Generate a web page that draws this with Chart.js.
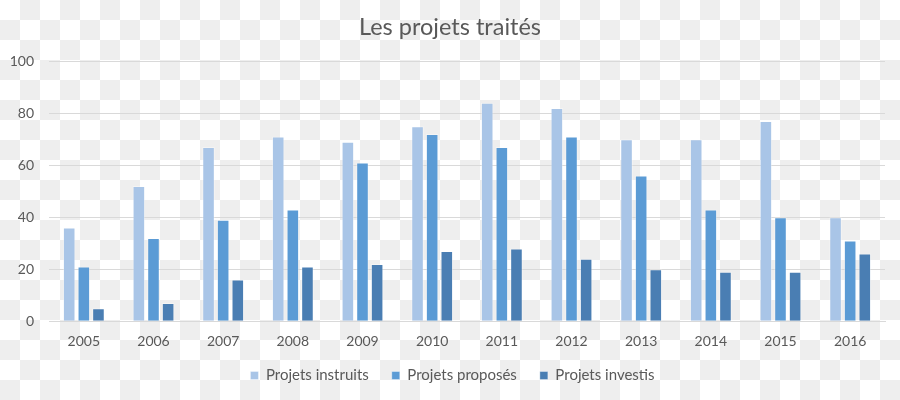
<!DOCTYPE html>
<html>
<head>
<meta charset="utf-8">
<script src="https://cdn.jsdelivr.net/npm/chart.js@4/dist/chart.umd.min.js"></script>
<style>
  html, body { margin: 0; padding: 0; }
  body {
    width: 900px; height: 400px; overflow: hidden;
    background: repeating-conic-gradient(#eeeeee 0 25%, #ffffff 0 50%) 0 0 / 40px 40px;
  }
  #c { display: block; }
</style>
</head>
<body>
<canvas id="c" width="900" height="400"></canvas>
<script>
const categories = ['2005','2006','2007','2008','2009','2010','2011','2012','2013','2014','2015','2016'];
const projetsInstruits = [36, 52, 67, 71, 69, 75, 84, 82, 70, 70, 77, 40];
const projetsProposes  = [21, 32, 39, 43, 61, 72, 67, 71, 56, 43, 40, 31];
const projetsInvestis  = [5, 7, 16, 21, 22, 27, 28, 24, 20, 19, 19, 26];
const yTicks = [0, 20, 40, 60, 80, 100];

const FONT = 'Lato, "Open Sans", sans-serif';
const TXT = '#595959';

// small layout adjustments: give the plot more height and shift title/legend slightly
const layoutNudge = {
  id: 'layoutNudge',
  beforeUpdate(chart) {
    const lg = chart.legend;
    if (lg && !lg._nudged) {
      const f = lg.fit;
      lg.fit = function () { f.apply(this, arguments); this.height -= 12; };
      const d = lg.draw;
      lg.draw = function () {
        const t = this.top, l = this.left, r = this.right;
        this.top = t - 17;
        this.left = l + 6; this.right = r + 6;
        d.apply(this, arguments);
        this.top = t; this.left = l; this.right = r;
      };
      lg._nudged = true;
    }
    const tt = chart.titleBlock;
    if (tt && !tt._nudged) {
      const d = tt.draw;
      tt.draw = function () {
        const l = this.left, r = this.right;
        this.left = l + 3.5; this.right = r + 3.5;
        d.apply(this, arguments);
        this.left = l; this.right = r;
      };
      tt._nudged = true;
    }
  }
};

new Chart(document.getElementById('c'), {
  type: 'bar',
  data: {
    labels: categories,
    datasets: [
      { label: 'Projets instruits', data: projetsInstruits, backgroundColor: '#a9c5e7', borderColor: 'rgba(255,255,255,0.35)', borderWidth: 1 },
      { label: 'Projets proposés',  data: projetsProposes,  backgroundColor: '#5b9bd5', borderColor: 'rgba(255,255,255,0.35)', borderWidth: 1 },
      { label: 'Projets investis',  data: projetsInvestis,  backgroundColor: '#4a7eb3', borderColor: 'rgba(255,255,255,0.35)', borderWidth: 1 }
    ]
  },
  plugins: [layoutNudge],
  options: {
    responsive: false,
    animation: false,
    layout: { padding: { left: 8, right: 15, top: 0, bottom: 2 } },
    datasets: { bar: { categoryPercentage: 0.63, barPercentage: 0.86 } },
    plugins: {
      title: {
        display: true,
        text: 'Les projets traités',
        color: TXT,
        font: { family: FONT, size: 23.5, weight: 'normal' },
        padding: { top: 13, bottom: 20 }
      },
      legend: {
        position: 'bottom',
        labels: {
          color: TXT,
          font: { family: FONT, size: 15 },
          boxWidth: 8, boxHeight: 8,
          padding: 23
        }
      },
      tooltip: { enabled: false }
    },
    scales: {
      x: {
        grid: { display: false, drawTicks: false },
        border: { display: true, color: '#d9d9d9', width: 1 },
        ticks: { color: TXT, font: { family: FONT, size: 14 }, padding: 12 }
      },
      y: {
        min: 0, max: 100,
        afterBuildTicks: s => { s.ticks = yTicks.map(v => ({ value: v })); },
        afterFit: s => { s.width = 41; },
        grid: { color: '#d9d9d9', drawTicks: false },
        border: { display: false },
        ticks: { color: TXT, font: { family: FONT, size: 14 }, padding: 15 }
      }
    }
  }
});
</script>
</body>
</html>
